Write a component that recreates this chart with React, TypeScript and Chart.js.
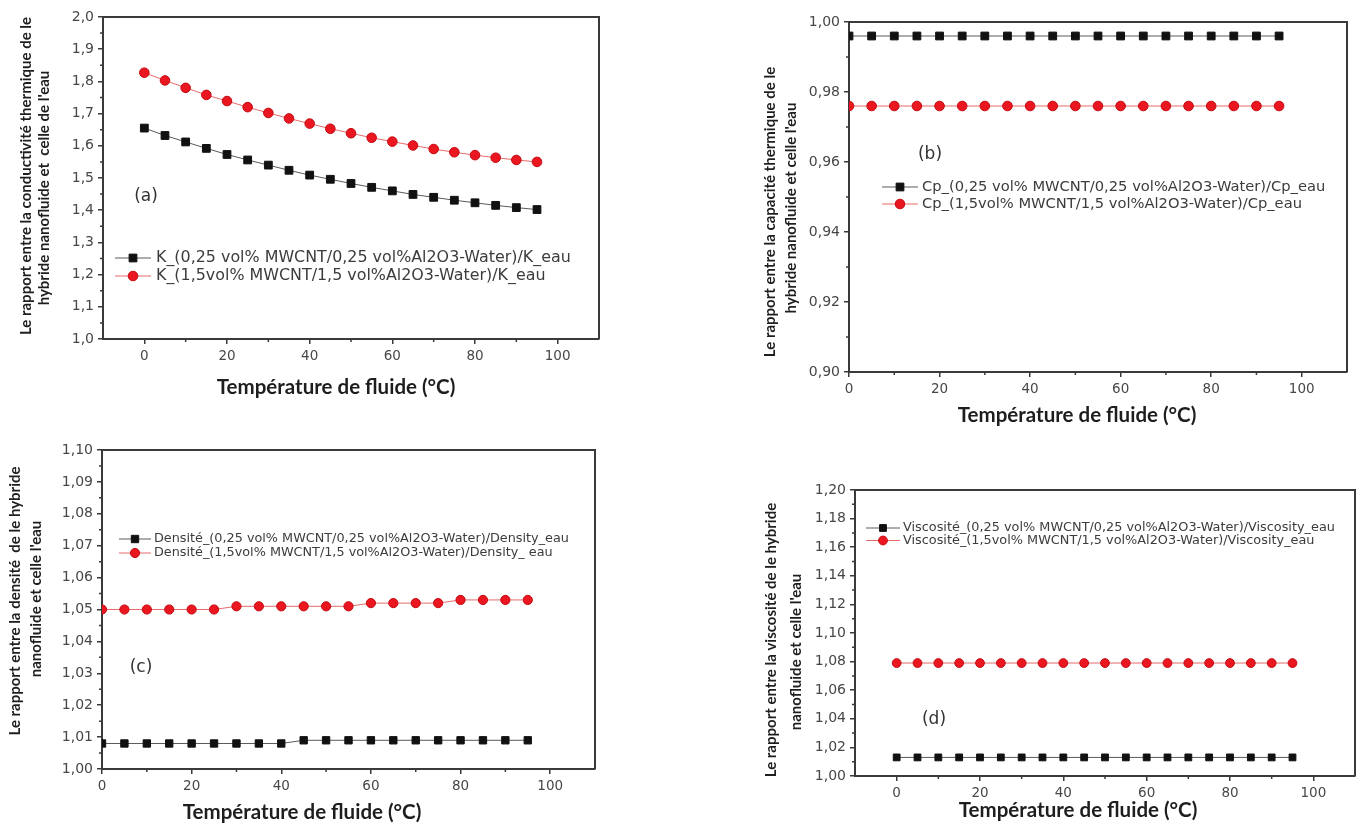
import React, { useEffect, useRef } from "react";
import { Chart, registerables } from "chart.js";

Chart.register(...registerables);

// Fluid temperature (°C) shared by every panel
const temperatures = [0, 5, 10, 15, 20, 25, 30, 35, 40, 45, 50, 55, 60, 65, 70, 75, 80, 85, 90, 95];

// (a) thermal conductivity ratio k_nf / k_water
const kLow = [1.655, 1.632, 1.612, 1.592, 1.573, 1.556, 1.54, 1.524, 1.509, 1.496, 1.483, 1.471, 1.46, 1.449, 1.44, 1.431, 1.423, 1.415, 1.408, 1.402];
const kHigh = [1.827, 1.803, 1.78, 1.758, 1.739, 1.72, 1.702, 1.685, 1.669, 1.653, 1.639, 1.625, 1.613, 1.601, 1.59, 1.58, 1.571, 1.563, 1.556, 1.55];

// (b) heat capacity ratio Cp_nf / Cp_water
const cpLow = [0.996, 0.996, 0.996, 0.996, 0.996, 0.996, 0.996, 0.996, 0.996, 0.996, 0.996, 0.996, 0.996, 0.996, 0.996, 0.996, 0.996, 0.996, 0.996, 0.996];
const cpHigh = [0.976, 0.976, 0.976, 0.976, 0.976, 0.976, 0.976, 0.976, 0.976, 0.976, 0.976, 0.976, 0.976, 0.976, 0.976, 0.976, 0.976, 0.976, 0.976, 0.976];

// (c) density ratio
const rhoLow = [1.008, 1.008, 1.008, 1.008, 1.008, 1.008, 1.008, 1.008, 1.008, 1.009, 1.009, 1.009, 1.009, 1.009, 1.009, 1.009, 1.009, 1.009, 1.009, 1.009];
const rhoHigh = [1.05, 1.05, 1.05, 1.05, 1.05, 1.05, 1.051, 1.051, 1.051, 1.051, 1.051, 1.051, 1.052, 1.052, 1.052, 1.052, 1.053, 1.053, 1.053, 1.053];

// (d) viscosity ratio
const muLow = [1.013, 1.013, 1.013, 1.013, 1.013, 1.013, 1.013, 1.013, 1.013, 1.013, 1.013, 1.013, 1.013, 1.013, 1.013, 1.013, 1.013, 1.013, 1.013, 1.013];
const muHigh = [1.079, 1.079, 1.079, 1.079, 1.079, 1.079, 1.079, 1.079, 1.079, 1.079, 1.079, 1.079, 1.079, 1.079, 1.079, 1.079, 1.079, 1.079, 1.079, 1.079];

// Tick values
const xTicks = [0, 20, 40, 60, 80, 100];
const xMinorTicks = [10, 30, 50, 70, 90];
const kTicks = [1.0, 1.1, 1.2, 1.3, 1.4, 1.5, 1.6, 1.7, 1.8, 1.9, 2.0];
const cpTicks = [0.9, 0.92, 0.94, 0.96, 0.98, 1.0];
const rhoTicks = [1.0, 1.01, 1.02, 1.03, 1.04, 1.05, 1.06, 1.07, 1.08, 1.09, 1.1];
const muTicks = [1.0, 1.02, 1.04, 1.06, 1.08, 1.1, 1.12, 1.14, 1.16, 1.18, 1.2];

// Legend labels
const kLabels = [
  "K_(0,25 vol% MWCNT/0,25 vol%Al2O3-Water)/K_eau",
  "K_(1,5vol% MWCNT/1,5 vol%Al2O3-Water)/K_eau",
];
const cpLabels = [
  "Cp_(0,25 vol% MWCNT/0,25 vol%Al2O3-Water)/Cp_eau",
  "Cp_(1,5vol% MWCNT/1,5 vol%Al2O3-Water)/Cp_eau",
];
const rhoLabels = [
  "Densité_(0,25 vol% MWCNT/0,25 vol%Al2O3-Water)/Density_eau",
  "Densité_(1,5vol% MWCNT/1,5 vol%Al2O3-Water)/Density_ eau",
];
const muLabels = [
  "Viscosité_(0,25 vol% MWCNT/0,25 vol%Al2O3-Water)/Viscosity_eau",
  "Viscosité_(1,5vol% MWCNT/1,5 vol%Al2O3-Water)/Viscosity_eau",
];

const xTitle = "Température de fluide (°C)";

const AXIS = "#3a3a3a";
const TICK_COLOR = "#474747";
const TICK_FONT = '"DejaVu Sans", Verdana, sans-serif';
const TITLE_FONT = 'Lato, "Open Sans", sans-serif';

type Series = {
  label: string;
  values: number[];
  marker: "rect" | "circle";
  radius: number;
  fill: string;
  edge: string;
  line: string;
};

type PanelSpec = {
  box: { left: number; top: number; width: number; height: number };
  area: { left: number; top: number; right: number; bottom: number };
  xMin: number;
  xMax: number;
  yTicks: number[];
  yDecimals: number;
  series: Series[];
  legend: { x: number; y: number; rowGap: number; lineLen: number; textGap: number; size: number };
  tag: { text: string; x: number; y: number };
  xTitlePos: { x: number; y: number; size: number };
  yTitle: { lines: string[]; xs: number[]; cys: number[]; size: number };
};

const blackSeries = (label: string, values: number[], radius: number): Series => ({
  label,
  values,
  marker: "rect",
  radius,
  fill: "#111111",
  edge: "#111111",
  line: "#5a5a5a",
});
const redSeries = (label: string, values: number[], radius: number): Series => ({
  label,
  values,
  marker: "circle",
  radius,
  fill: "#ea1620",
  edge: "#c40a10",
  line: "#e86a6a",
});

const panels: PanelSpec[] = [
  {
    box: { left: 0, top: 0, width: 620, height: 405 },
    area: { left: 103, top: 17, right: 599, bottom: 339 },
    xMin: -10,
    xMax: 110,
    yTicks: kTicks,
    yDecimals: 1,
    series: [blackSeries(kLabels[0], kLow, 5.5), redSeries(kLabels[1], kHigh, 4.8)],
    legend: { x: 115, y: 258, rowGap: 18, lineLen: 36, textGap: 5, size: 15.9 },
    tag: { text: "(a)", x: 146, y: 197 },
    xTitlePos: { x: 336, y: 387, size: 20.5 },
    yTitle: {
      lines: ["Le rapport entre la conductivité thermique de le", "hybride nanofluide et  celle de l'eau"],
      xs: [26, 44],
      cys: [176, 188],
      size: 15,
    },
  },
  {
    box: { left: 740, top: 0, width: 623, height: 430 },
    area: { left: 849, top: 22, right: 1347, bottom: 372 },
    xMin: 0,
    xMax: 110,
    yTicks: cpTicks,
    yDecimals: 2,
    series: [blackSeries(cpLabels[0], cpLow, 5.5), redSeries(cpLabels[1], cpHigh, 4.8)],
    legend: { x: 882, y: 187, rowGap: 17, lineLen: 36, textGap: 4, size: 14.7 },
    tag: { text: "(b)", x: 930, y: 155 },
    xTitlePos: { x: 1077, y: 415, size: 20.5 },
    yTitle: {
      lines: ["Le rapport entre la capacité thermique de le", "hybride nanofluide et celle l'eau"],
      xs: [770, 791],
      cys: [212, 208],
      size: 15,
    },
  },
  {
    box: { left: 0, top: 420, width: 620, height: 403 },
    area: { left: 102, top: 450, right: 595, bottom: 769 },
    xMin: 0,
    xMax: 110,
    yTicks: rhoTicks,
    yDecimals: 2,
    series: [blackSeries(rhoLabels[0], rhoLow, 5.2), redSeries(rhoLabels[1], rhoHigh, 4.6)],
    legend: { x: 119, y: 539, rowGap: 14, lineLen: 32, textGap: 3, size: 12.8 },
    tag: { text: "(c)", x: 141, y: 668 },
    xTitlePos: { x: 302, y: 812, size: 20.5 },
    yTitle: {
      lines: ["Le rapport entre la densité  de le hybride", "nanofluide et celle l'eau"],
      xs: [15, 36],
      cys: [601, 599],
      size: 15,
    },
  },
  {
    box: { left: 740, top: 440, width: 623, height: 383 },
    area: { left: 855, top: 490, right: 1355, bottom: 776 },
    xMin: -10,
    xMax: 110,
    yTicks: muTicks,
    yDecimals: 2,
    series: [blackSeries(muLabels[0], muLow, 4.8), redSeries(muLabels[1], muHigh, 4.4)],
    legend: { x: 866, y: 528, rowGap: 12.5, lineLen: 34, textGap: 3, size: 12.85 },
    tag: { text: "(d)", x: 934, y: 720 },
    xTitlePos: { x: 1078, y: 810, size: 20.5 },
    yTitle: {
      lines: ["Le rapport entre la viscosité de le hybride", "nanofluide et celle l'eau"],
      xs: [771, 796],
      cys: [640, 652],
      size: 15,
    },
  },
];

function drawMarker(ctx: CanvasRenderingContext2D, s: Series, x: number, y: number) {
  ctx.fillStyle = s.fill;
  ctx.strokeStyle = s.edge;
  ctx.lineWidth = 1;
  ctx.beginPath();
  if (s.marker === "rect") {
    const h = s.radius * Math.SQRT1_2;
    ctx.rect(x - h, y - h, 2 * h, 2 * h);
  } else {
    ctx.arc(x, y, s.radius, 0, Math.PI * 2);
  }
  ctx.fill();
  ctx.stroke();
}

// Frame, minor ticks, legend, panel tag and axis titles
const decorPlugin = {
  id: "decor",
  afterDraw(chart: any, _args: any, o: any) {
    const spec: PanelSpec = o.spec;
    const { ctx, chartArea: ca, scales } = chart;
    const bx = spec.box.left;
    const by = spec.box.top;
    ctx.save();

    // top and right frame lines
    ctx.strokeStyle = AXIS;
    ctx.lineWidth = 2;
    ctx.beginPath();
    ctx.moveTo(ca.left, ca.top);
    ctx.lineTo(ca.right, ca.top);
    ctx.lineTo(ca.right, ca.bottom);
    ctx.stroke();

    // minor ticks
    ctx.lineWidth = 1.5;
    ctx.beginPath();
    xMinorTicks.forEach((v) => {
      const px = scales.x.getPixelForValue(v);
      ctx.moveTo(px, ca.bottom);
      ctx.lineTo(px, ca.bottom + 3);
    });
    for (let i = 0; i < spec.yTicks.length - 1; i++) {
      const mid = (spec.yTicks[i] + spec.yTicks[i + 1]) / 2;
      const py = scales.y.getPixelForValue(mid);
      ctx.moveTo(ca.left, py);
      ctx.lineTo(ca.left - 3, py);
    }
    ctx.stroke();

    // legend
    const lg = spec.legend;
    ctx.font = `${lg.size}px ${TICK_FONT}`;
    ctx.textBaseline = "middle";
    ctx.textAlign = "left";
    spec.series.forEach((s, i) => {
      const x0 = lg.x - bx;
      const y0 = lg.y - by + i * lg.rowGap;
      ctx.strokeStyle = s.line;
      ctx.lineWidth = 1;
      ctx.beginPath();
      ctx.moveTo(x0, y0);
      ctx.lineTo(x0 + lg.lineLen, y0);
      ctx.stroke();
      drawMarker(ctx, s, x0 + lg.lineLen / 2, y0);
      ctx.fillStyle = "#3c3c3c";
      ctx.fillText(s.label, x0 + lg.lineLen + lg.textGap, y0);
    });

    // panel tag
    ctx.font = `17px ${TICK_FONT}`;
    ctx.fillStyle = "#333";
    ctx.textAlign = "center";
    ctx.fillText(spec.tag.text, spec.tag.x - bx, spec.tag.y - by);

    // x title
    ctx.font = `bold ${spec.xTitlePos.size}px ${TITLE_FONT}`;
    ctx.fillStyle = "#1e1e1e";
    ctx.fillText(xTitle, spec.xTitlePos.x - bx, spec.xTitlePos.y - by);

    // y title (two rotated lines)
    ctx.font = `bold ${spec.yTitle.size}px ${TITLE_FONT}`;
    spec.yTitle.lines.forEach((line, i) => {
      ctx.save();
      ctx.translate(spec.yTitle.xs[i] - bx, spec.yTitle.cys[i] - by);
      ctx.rotate(-Math.PI / 2);
      ctx.fillText(line, 0, 0);
      ctx.restore();
    });

    ctx.restore();
  },
};

function buildConfig(p: PanelSpec): any {
  const a = p.area;
  const b = p.box;
  const padTop = a.top - b.top;
  const padRight = b.left + b.width - a.right;
  const yWidth = a.left - b.left;
  const xHeight = b.top + b.height - a.bottom;
  const yMin = p.yTicks[0];
  const yMax = p.yTicks[p.yTicks.length - 1];

  return {
    type: "line",
    data: {
      datasets: p.series.map((s) => ({
        label: s.label,
        data: temperatures.map((t, i) => ({ x: t, y: s.values[i] })),
        borderColor: s.line,
        borderWidth: 1,
        pointStyle: s.marker,
        pointRadius: s.radius,
        pointBackgroundColor: s.fill,
        pointBorderColor: s.edge,
        pointBorderWidth: 1,
        tension: 0,
        fill: false,
      })),
    },
    options: {
      responsive: false,
      animation: false,
      events: [],
      layout: { padding: { left: 0, top: padTop, right: padRight, bottom: 0 } },
      scales: {
        x: {
          type: "linear",
          min: p.xMin,
          max: p.xMax,
          afterBuildTicks: (s: any) => {
            s.ticks = xTicks.map((v) => ({ value: v }));
          },
          afterFit: (s: any) => {
            s.height = xHeight;
            s.paddingLeft = 0;
            s.paddingRight = 0;
          },
          grid: { drawOnChartArea: false, drawTicks: true, tickLength: 5, color: AXIS, lineWidth: 1.5 },
          border: { color: AXIS, width: 2 },
          ticks: {
            font: { family: TICK_FONT, size: 13.5 },
            color: TICK_COLOR,
            padding: 4,
            maxRotation: 0,
            autoSkip: false,
            callback: (v: number) => String(v),
          },
        },
        y: {
          type: "linear",
          min: yMin,
          max: yMax,
          afterBuildTicks: (s: any) => {
            s.ticks = p.yTicks.map((v) => ({ value: v }));
          },
          afterFit: (s: any) => {
            s.width = yWidth;
            s.paddingTop = 0;
            s.paddingBottom = 0;
          },
          grid: { drawOnChartArea: false, drawTicks: true, tickLength: 5, color: AXIS, lineWidth: 1.5 },
          border: { color: AXIS, width: 2 },
          ticks: {
            font: { family: TICK_FONT, size: 14 },
            color: TICK_COLOR,
            padding: 4,
            autoSkip: false,
            callback: (v: number) => v.toFixed(p.yDecimals).replace(".", ","),
          },
        },
      },
      plugins: {
        legend: { display: false },
        tooltip: { enabled: false },
        decor: { spec: p },
      },
    },
    plugins: [decorPlugin],
  };
}

function Panel({ spec }: { spec: PanelSpec }) {
  const ref = useRef<HTMLCanvasElement>(null);
  useEffect(() => {
    const chart = new Chart(ref.current as HTMLCanvasElement, buildConfig(spec));
    return () => chart.destroy();
  }, [spec]);
  const b = spec.box;
  return (
    <canvas
      ref={ref}
      width={b.width}
      height={b.height}
      style={{ position: "absolute", left: b.left, top: b.top, width: b.width, height: b.height }}
    />
  );
}

export default function App() {
  return (
    <div
      style={{
        position: "absolute",
        left: 0,
        top: 0,
        width: 1363,
        height: 823,
        background: "#ffffff",
        overflow: "hidden",
      }}
    >
      {panels.map((p, i) => (
        <Panel key={i} spec={p} />
      ))}
    </div>
  );
}
